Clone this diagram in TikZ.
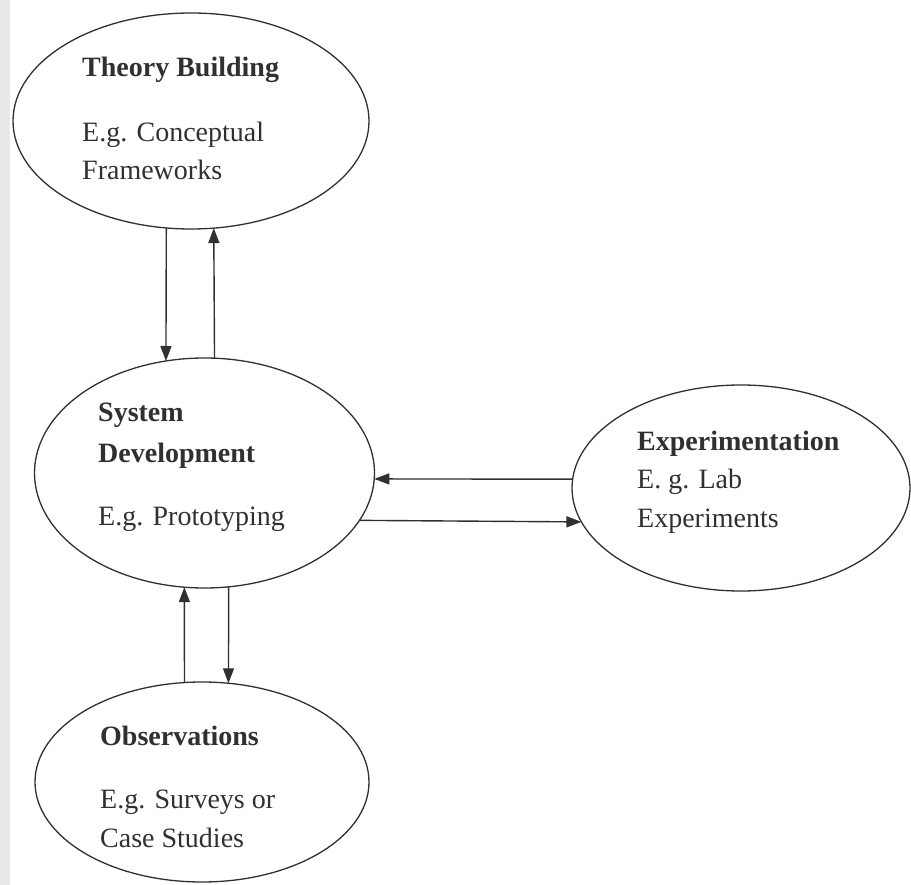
\documentclass[tikz,border=0pt]{standalone}
\usepackage{fontspec}
\setmainfont{Liberation Serif}
\usetikzlibrary{arrows.meta,shapes.geometric}

\definecolor{ink}{HTML}{303030}
\definecolor{strip}{HTML}{E9E9E9}

\tikzset{
  stage/.style={ellipse, draw=ink, line width=1.3pt, inner sep=0pt, outer sep=0pt},
  title/.style={anchor=base west, inner sep=0pt, text=ink,
    font=\fontsize{28}{38}\selectfont\bfseries},
  body/.style={anchor=base west, inner sep=0pt, text=ink,
    font=\fontsize{28}{38}\selectfont},
  flow/.style={draw=ink, line width=1.4pt, -{Triangle[length=15pt,width=11pt]}}
}

\begin{document}
\begin{tikzpicture}[x=1pt, y=-1pt]
  \useasboundingbox (0,0) rectangle (911,885);
  \fill[strip] (0,0) rectangle (10,885);

  % the four stages
  \node[stage, minimum width=356pt, minimum height=216pt] (theory) at (191,121) {};
  \node[stage, minimum width=340pt, minimum height=230pt] (sys) at (204.5,473) {};
  \node[stage, minimum width=338pt, minimum height=206pt] (exper) at (741,488) {};
  \node[stage, minimum width=334pt, minimum height=200pt] (obs) at (202,782) {};

  % labels inside the stages
  \node[title] (theoryT) at (82,77) {Theory Building};
  \node[body]  (theoryA) at (82,142) {E.g. Conceptual};
  \node[body]  (theoryB) at (82,180) {Frameworks};

  \node[title] (sysT) at (98,422) {System};
  \node[title] (sysU) at (98,462) {Development};
  \node[body]  (sysA) at (98,525) {E.g. Prototyping};

  \node[title] (experT) at (637,450) {Experimentation};
  \node[body]  (experA) at (637,488) {E. g. Lab};
  \node[body]  (experB) at (637,527) {Experiments};

  \node[title] (obsT) at (100,745) {Observations};
  \node[body]  (obsA) at (100,808) {E.g. Surveys or};
  \node[body]  (obsB) at (100,847) {Case Studies};

  % connectors between the stages
  \draw[flow] (theory.-103.2) -- (sys.109.0);
  \draw[flow] (sys.85.8) -- (theory.-78.4);
  \draw[flow] (exper.177.3) -- (sys.-2.36);
  \draw[flow] (sys.-17.67) -- (exper.-168.0);
  \draw[flow] (obs.100.8) -- (sys.-100.7);
  \draw[flow] (sys.-78.3) -- (obs.75.25);
\end{tikzpicture}
\end{document}
